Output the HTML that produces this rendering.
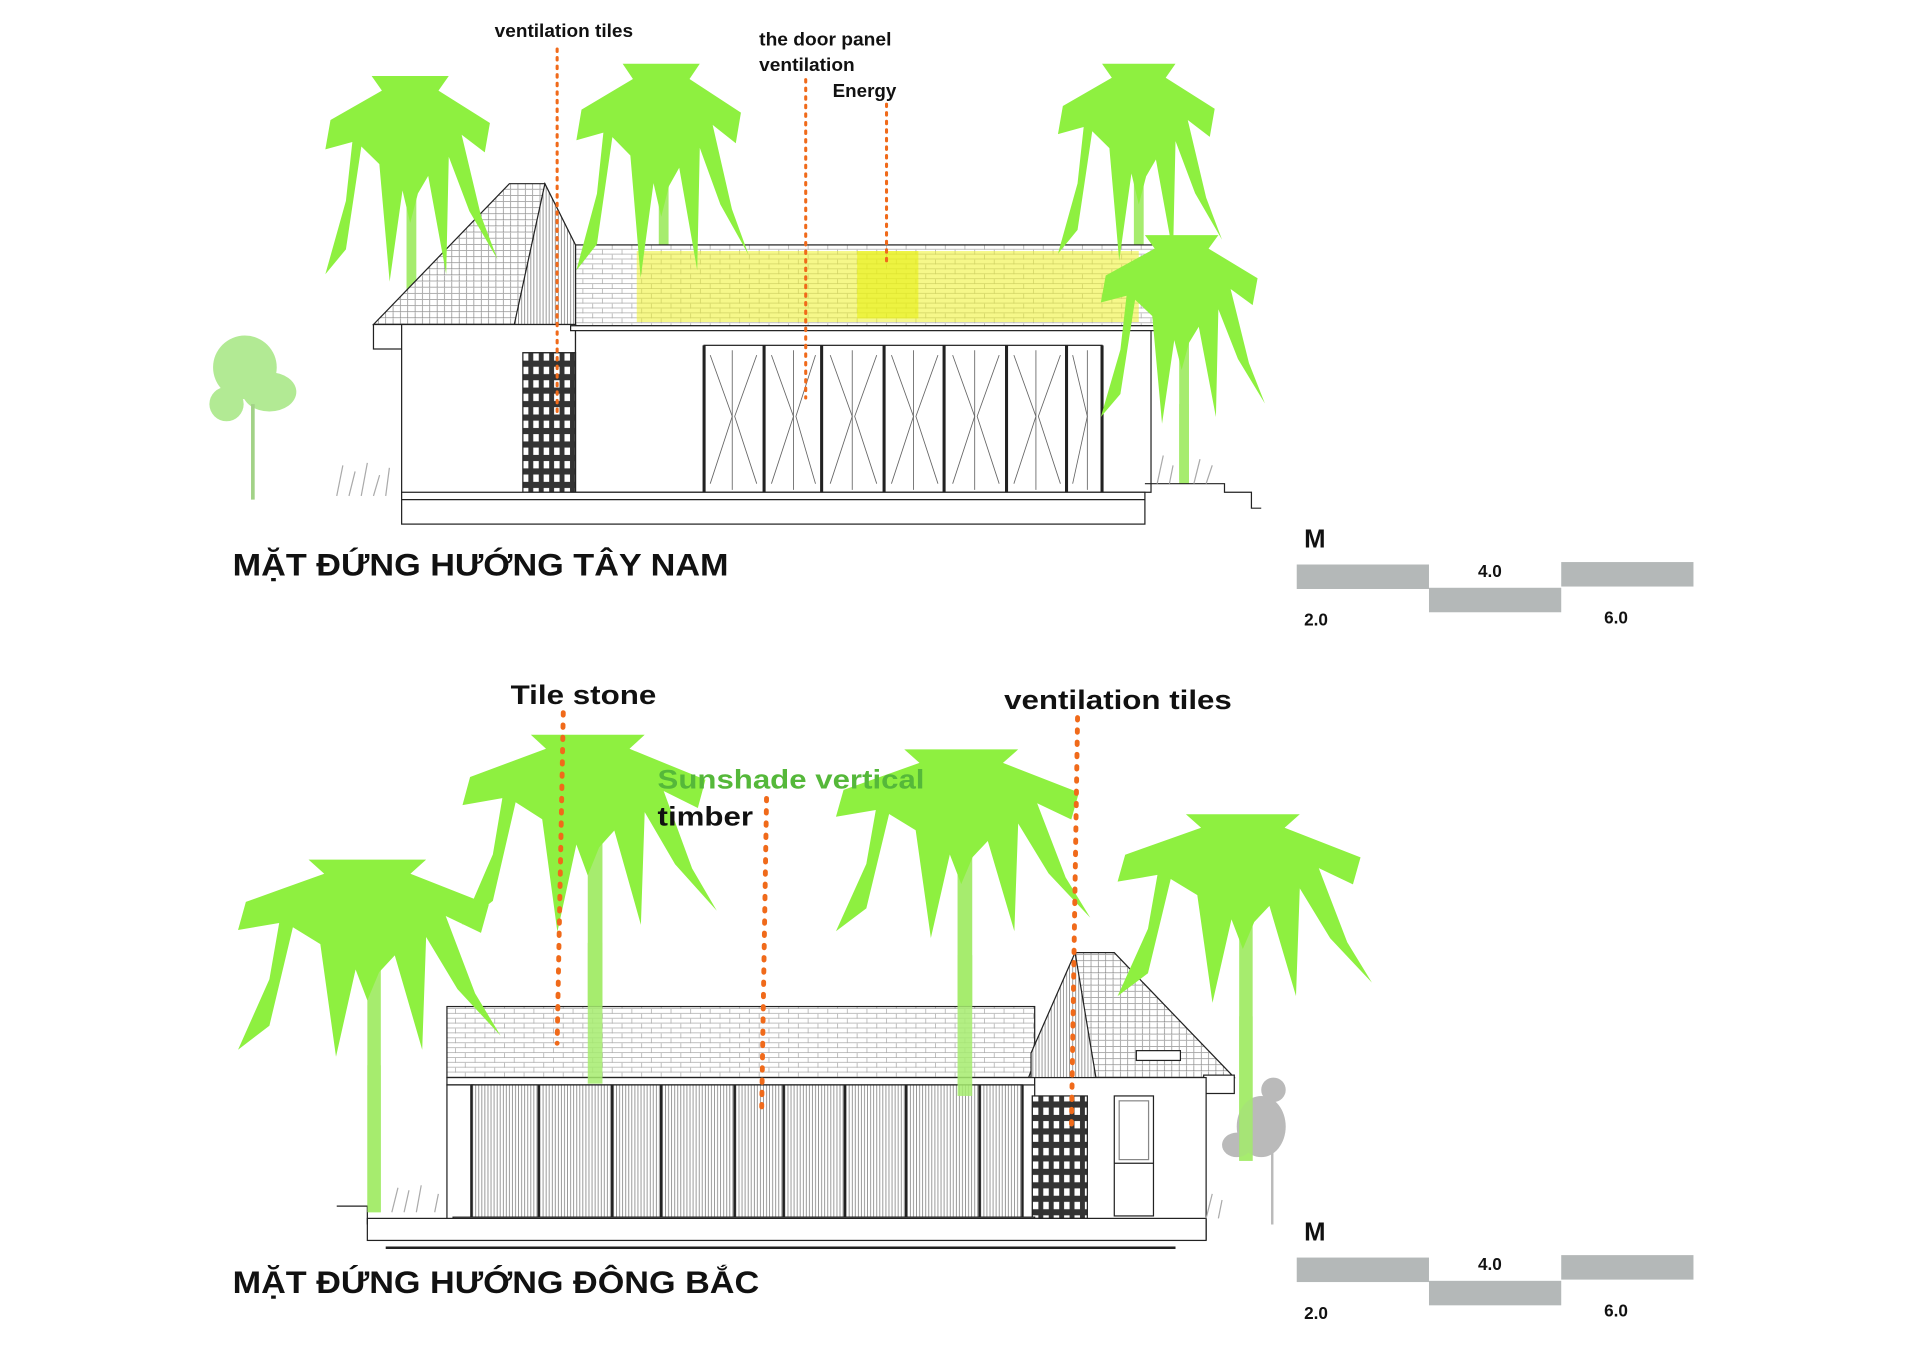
<!DOCTYPE html>
<html><head><meta charset="utf-8"><style>
html,body{margin:0;padding:0;background:#fff;}
svg{display:block;}
text{font-family:"Liberation Sans",sans-serif;font-weight:bold;fill:#111;}
</style></head><body>
<svg width="1920" height="1358" viewBox="0 0 1568 1109" xmlns="http://www.w3.org/2000/svg">
<defs>
<pattern id="tile" width="16" height="8" patternUnits="userSpaceOnUse">
<rect width="16" height="8" fill="#fff"/>
<path d="M0 7.5H16M0 3.5H16M4 0V4M12 4V8" stroke="#aaa" stroke-width="0.6" fill="none"/>
</pattern>
<pattern id="tileS" width="6" height="5" patternUnits="userSpaceOnUse">
<rect width="6" height="5" fill="#fff"/>
<path d="M0 4.5H6M3 0V4.5" stroke="#777" stroke-width="0.5" fill="none"/>
</pattern>
<pattern id="slat" width="5" height="10" patternUnits="userSpaceOnUse">
<rect width="5" height="10" fill="#fff"/>
<path d="M1 0V10M3.5 0V10" stroke="#777" stroke-width="0.6"/>
</pattern>
<pattern id="grid" width="8.5" height="11" patternUnits="userSpaceOnUse">
<rect width="8.5" height="11" fill="#333"/>
<rect x="2" y="2.5" width="4.5" height="6" fill="#fff"/>
</pattern>
<g id="palm">
<path d="M-30,0 L30,0 L22,10 L62,32 L58,52 L40,40 L55,95 L68,125 L46,92 L30,55 L28,135 L14,68 L6,80 L0,100 L-6,78 L-16,140 L-24,60 L-38,48 L-50,118 L-66,135 L-50,85 L-45,45 L-66,50 L-62,30 L-22,10 Z" fill="#8ef040"/>
</g>
</defs>

<!-- ============ TOP ELEVATION ============ -->
<g fill="#a6ec6e">
<rect x="332" y="110" width="8" height="155"/>
<rect x="538" y="100" width="8" height="152"/>
<rect x="926" y="100" width="8" height="150"/>
<rect x="963" y="240" width="8" height="155"/>
</g>
<g fill="#9fe57a" opacity="0.8">
<ellipse cx="200" cy="300" rx="26" ry="26"/><ellipse cx="220" cy="320" rx="22" ry="16"/><ellipse cx="185" cy="330" rx="14" ry="14"/>
<rect x="205" y="330" width="3" height="78" fill="#8cc86a"/>
</g>
<g stroke="#222" stroke-width="1">
<rect x="470" y="200" width="478" height="66" fill="url(#tile)"/>
<rect x="520" y="205" width="410" height="58" fill="#eef22a" opacity="0.55" stroke="none"/>
<rect x="700" y="205" width="50" height="55" fill="#e8f010" opacity="0.6" stroke="none"/>
<polygon points="305,265 416,150 445,150 470,265" fill="url(#tileS)"/>
<polygon points="445,150 470,200 470,265 420,265" fill="url(#slat)"/>
<rect x="305" y="265" width="25" height="20" fill="#fff"/>
<rect x="328" y="265" width="142" height="140" fill="#fff"/>
<rect x="470" y="268" width="470" height="134" fill="#fff"/>
<rect x="466" y="266" width="478" height="4" fill="#fff"/>
<rect x="427" y="288" width="43" height="114" fill="url(#grid)"/>
<rect x="575" y="282" width="325" height="120" fill="#fff"/>
<g stroke-width="2.5">
<line x1="575" y1="282" x2="575" y2="402"/><line x1="624" y1="282" x2="624" y2="402"/><line x1="671" y1="282" x2="671" y2="402"/><line x1="722" y1="282" x2="722" y2="402"/><line x1="771" y1="282" x2="771" y2="402"/><line x1="822" y1="282" x2="822" y2="402"/><line x1="871" y1="282" x2="871" y2="402"/><line x1="900" y1="282" x2="900" y2="402"/>
</g>
<g stroke="#666" stroke-width="0.7" fill="none">
<path d="M580,290 L598,340 L580,395 M618,290 L600,340 L618,395 M630,290 L648,340 L630,395 M666,290 L650,340 L666,395 M678,290 L696,340 L678,395 M716,290 L698,340 L716,395 M728,290 L746,340 L728,395 M766,290 L748,340 L766,395 M778,290 L796,340 L778,395 M816,290 L798,340 L816,395 M828,290 L846,340 L828,395 M866,290 L848,340 L866,395 M876,290 L888,340 L876,395"/>
<path d="M598,286V400M648,286V400M696,286V400M746,286V400M796,286V400M846,286V400M888,286V400"/>
</g>
<rect x="328" y="402" width="607" height="26" fill="#fff"/>
<line x1="328" y1="408" x2="935" y2="408"/>
<path d="M935,395 L1000,395 L1000,402 L1022,402 L1022,415 L1030,415" fill="none"/>
</g>
<use href="#palm" transform="translate(335,62) scale(1.05,1.2)"/>
<use href="#palm" transform="translate(540,52) scale(1.05,1.25)"/>
<use href="#palm" transform="translate(930,52) scale(1.0,1.15)"/>
<use href="#palm" transform="translate(965,192) scale(1.0,1.1)"/>
<g fill="#a6ec6e" opacity="0.85"><rect x="963" y="330" width="8" height="62"/></g>
<g stroke="#aaa" stroke-width="1"><path d="M275,405 L280,380 M285,405 L290,385 M295,405 L300,378 M305,405 L310,388 M315,405 L318,382 M945,395 L950,372 M955,395 L958,380 M975,395 L980,375 M985,395 L990,380"/></g>
<g stroke="#f06a1a" stroke-width="2.5" stroke-dasharray="2,5" stroke-linecap="round" fill="none">
<line x1="455" y1="40" x2="455" y2="340"/>
<line x1="658" y1="65" x2="658" y2="325"/>
<line x1="724" y1="85" x2="724" y2="218"/>
</g>
<text x="404" y="30" font-size="15" textLength="113" lengthAdjust="spacingAndGlyphs">ventilation tiles</text>
<text x="620" y="37" font-size="15" textLength="108" lengthAdjust="spacingAndGlyphs">the door panel</text>
<text x="620" y="58" font-size="15" textLength="78" lengthAdjust="spacingAndGlyphs">ventilation</text>
<text x="680" y="79" font-size="15" textLength="52" lengthAdjust="spacingAndGlyphs">Energy</text>
<text x="190" y="470" font-size="26" textLength="405" lengthAdjust="spacingAndGlyphs">MẶT ĐỨNG HƯỚNG TÂY NAM</text>
<text x="1065" y="447" font-size="21">M</text>
<rect x="1059" y="461" width="108" height="20" fill="#b4b8b8"/>
<rect x="1167" y="480" width="108" height="20" fill="#b4b8b8"/>
<rect x="1275" y="459" width="108" height="20" fill="#b4b8b8"/>
<text x="1207" y="471" font-size="14">4.0</text>
<text x="1065" y="511" font-size="14">2.0</text>
<text x="1310" y="509" font-size="14">6.0</text>

<!-- ============ BOTTOM ELEVATION ============ -->
<g fill="#a6ec6e">
<rect x="300" y="760" width="11" height="230"/>
<rect x="480" y="660" width="12" height="225"/>
<rect x="782" y="680" width="12" height="215"/>
<rect x="1012" y="730" width="11" height="218"/>
</g>
<g fill="#aaa" opacity="0.8">
<ellipse cx="1030" cy="920" rx="20" ry="25"/><ellipse cx="1010" cy="935" rx="12" ry="10"/><ellipse cx="1040" cy="890" rx="10" ry="10"/>
<rect x="1038" y="940" width="2" height="60"/>
</g>
<g stroke="#222" stroke-width="1">
<rect x="365" y="822" width="480" height="58" fill="url(#tile)"/>
<polygon points="840,880 878,778 910,778 1008,880" fill="url(#tileS)"/>
<polygon points="878,778 842,860 842,880 895,880" fill="url(#slat)"/>
<rect x="928" y="858" width="36" height="8" fill="#fff"/>
<rect x="983" y="878" width="25" height="15" fill="#fff"/>
<rect x="365" y="880" width="480" height="6" fill="#fff"/>
<rect x="845" y="880" width="140" height="132" fill="#fff"/>
<rect x="365" y="886" width="22" height="110" fill="#fff"/>
<rect x="385" y="886" width="450" height="108" fill="url(#slat)"/>
<g stroke-width="2"><path d="M385,886V994M440,886V994M500,886V994M540,886V994M600,886V994M640,886V994M690,886V994M740,886V994M800,886V994M835,886V994"/></g>
<rect x="843" y="895" width="45" height="100" fill="url(#grid)"/>
<rect x="910" y="895" width="32" height="98" fill="#fff"/>
<line x1="910" y1="950" x2="942" y2="950"/>
<rect x="914" y="899" width="24" height="48" fill="none" stroke="#888"/>
<rect x="370" y="994" width="475" height="5" fill="#fff"/>
<rect x="300" y="995" width="685" height="18" fill="#fff"/>
<path d="M275,985 L300,985 L300,1000" fill="none"/>
<line x1="315" y1="1019" x2="960" y2="1019" stroke-width="2"/>
</g>
<use href="#palm" transform="translate(300,702) scale(1.6,1.15)"/>
<use href="#palm" transform="translate(480,600) scale(1.55,1.15)"/>
<use href="#palm" transform="translate(785,612) scale(1.55,1.1)"/>
<use href="#palm" transform="translate(1015,665) scale(1.55,1.1)"/>
<g fill="#a6ec6e" opacity="0.85">
<rect x="480" y="770" width="12" height="115"/><rect x="782" y="780" width="12" height="115"/><rect x="1012" y="830" width="11" height="118"/><rect x="300" y="870" width="11" height="120"/>
</g>
<g stroke="#aaa" stroke-width="1"><path d="M320,990 L325,970 M330,990 L334,972 M340,990 L344,968 M355,990 L358,975 M985,995 L990,975 M995,995 L998,980"/></g>
<g stroke="#f06a1a" stroke-width="4" stroke-dasharray="2,8" stroke-linecap="round" fill="none">
<line x1="460" y1="582" x2="455" y2="852"/>
<line x1="626" y1="652" x2="622" y2="908"/>
<line x1="880" y1="586" x2="875" y2="920"/>
</g>
<text x="417" y="575" font-size="22" textLength="119" lengthAdjust="spacingAndGlyphs">Tile stone</text>
<text x="820" y="579" font-size="22" textLength="186" lengthAdjust="spacingAndGlyphs">ventilation tiles</text>
<text x="537" y="644" font-size="22" style="fill:#55b83a" textLength="218" lengthAdjust="spacingAndGlyphs">Sunshade vertical</text>
<text x="537" y="674" font-size="22" textLength="78" lengthAdjust="spacingAndGlyphs">timber</text>
<text x="190" y="1056" font-size="26" textLength="430" lengthAdjust="spacingAndGlyphs">MẶT ĐỨNG HƯỚNG ĐÔNG BẮC</text>
<text x="1065" y="1013" font-size="21">M</text>
<rect x="1059" y="1027" width="108" height="20" fill="#b4b8b8"/>
<rect x="1167" y="1046" width="108" height="20" fill="#b4b8b8"/>
<rect x="1275" y="1025" width="108" height="20" fill="#b4b8b8"/>
<text x="1207" y="1037" font-size="14">4.0</text>
<text x="1065" y="1077" font-size="14">2.0</text>
<text x="1310" y="1075" font-size="14">6.0</text>
</svg>
</body></html>
